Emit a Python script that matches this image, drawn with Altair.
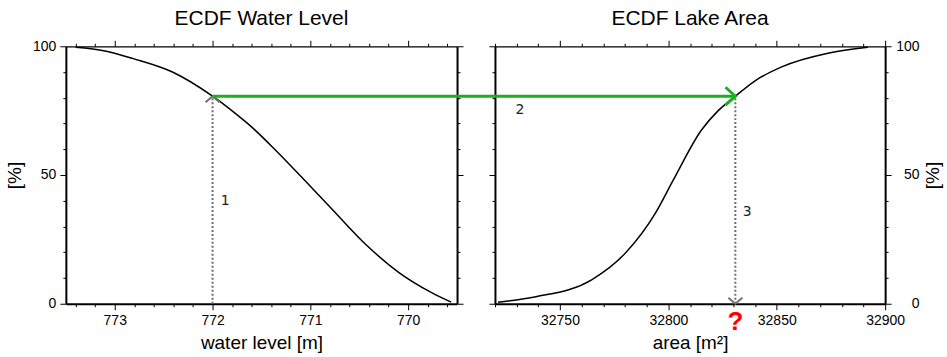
import altair as alt
import pandas as pd

# ---------------- data ----------------
wl_level = [773.40, 773.10, 772.81, 772.41, 772.00, 771.80, 771.59, 771.35, 771.09, 770.78, 770.43, 770.09, 769.76, 769.56]
wl_pct = [99.6, 98.2, 95.2, 90.0, 80.6, 74.9, 68.3, 59.4, 49.2, 36.8, 22.9, 12.0, 4.3, 0.6]

area_val = [32721.4, 32738.9, 32764.6, 32780.3, 32794.1, 32802.3, 32815.2, 32823.0, 32830.9, 32840.0, 32852.0, 32873.6, 32892.0]
area_pct = [0.6, 2.7, 9.3, 19.8, 35.3, 48.1, 67.4, 75.0, 80.6, 86.6, 91.9, 97.3, 99.6]

p_cross = 80.6
wl_cross = 772.0
area_cross = 32830.9

step_labels = ["1", "2", "3"]
step_x = [771.87, 32731.5, 32836.4]
step_y = [39.9, 75.2, 35.7]

q_label = "?"
q_y = -7.0

# tick positions
wl_major = [773, 772, 771, 770]
wl_ticks = [round(769.6 + 0.2 * i, 1) for i in range(20)]
area_major = [32750, 32800, 32850, 32900]
area_ticks = [32720 + 10 * i for i in range(19)]
pct_major = [0, 50, 100]
pct_ticks = [10 * i for i in range(11)]

# ---------------- layout ----------------
LEFT_W = 392
RIGHT_W = 391
H = 258
GAP = 38
WL_DOM = [769.5, 773.5]
AREA_DOM = [32720, 32900]

FONT = "Liberation Sans"
GREEN = "#1db01d"
GRAY = "#707070"

wl_scale = alt.Scale(domain=WL_DOM, reverse=True, nice=False, zero=False)
area_scale = alt.Scale(domain=AREA_DOM, nice=False, zero=False)
pct_scale = alt.Scale(domain=[0, 100], nice=False, zero=False)

wl_major_test = "abs(datum.value - round(datum.value)) < 0.001"
area_major_test = "datum.value % 50 === 0"
pct_major_test = "datum.value % 50 === 0"


def tsize(test):
    return {"condition": {"test": test, "value": 6}, "value": 3}


def lab(test):
    return f"{test} ? format(datum.value, 'd') : ''"


common_axis = dict(
    domainColor="black",
    tickColor="black",
    tickWidth=1,
    labelColor="black",
    labelFont=FONT,
    labelFontSize=14,
    titleFont=FONT,
    titleFontSize=19,
    titleFontWeight="normal",
    titleColor="black",
    grid=False,
    labelOverlap=False,
    labelFlush=False,
)

# ---------------- left panel ----------------
wl_df = pd.DataFrame({"level": wl_level, "pct": wl_pct})
cross_l = pd.DataFrame({"level": [wl_cross], "pct": [p_cross], "zero": [0]})
txt1 = pd.DataFrame({"level": [step_x[0]], "pct": [step_y[0]], "t": [step_labels[0]]})

l_curve = alt.Chart(wl_df).mark_line(color="black", strokeWidth=1.5, interpolate="monotone").encode(
    x=alt.X("level:Q", scale=wl_scale,
            axis=alt.Axis(orient="bottom", values=wl_ticks, labelExpr=lab(wl_major_test),
                          tickSize=tsize(wl_major_test), title="water level [m]", domainWidth=2,
                          labelPadding=4, titlePadding=6, **common_axis)),
    y=alt.Y("pct:Q", scale=pct_scale,
            axis=alt.Axis(orient="left", values=pct_ticks, labelExpr=lab(pct_major_test),
                          tickSize=tsize(pct_major_test), title="[%]", domainWidth=2,
                          labelPadding=4, titlePadding=8, **common_axis)),
)

l_dots = alt.Chart(cross_l).mark_rule(color=GRAY, strokeWidth=2, strokeDash=[2, 2]).encode(
    x=alt.X("level:Q", scale=wl_scale,
            axis=alt.Axis(orient="top", values=wl_ticks, labels=False, title=None,
                          tickSize=tsize(wl_major_test), domainWidth=1.3, **common_axis)),
    y=alt.Y("zero:Q", scale=pct_scale,
            axis=alt.Axis(orient="right", values=pct_ticks, labels=False, title=None,
                          tickSize=tsize(pct_major_test), domainWidth=2, **common_axis)),
    y2="pct:Q",
)

l_head = alt.Chart(cross_l).mark_point(
    shape="M-1,0.86L0,0L1,0.86", size=196, filled=False, color=GRAY, strokeWidth=2, opacity=1
).encode(
    x=alt.X("level:Q", scale=wl_scale, axis=None),
    y=alt.Y("pct:Q", scale=pct_scale, axis=None),
)

l_txt = alt.Chart(txt1).mark_text(font="DejaVu Sans", fontSize=14, color="#222222", align="center",
                                   baseline="middle").encode(
    x=alt.X("level:Q", scale=wl_scale, axis=None),
    y=alt.Y("pct:Q", scale=pct_scale, axis=None),
    text="t:N",
)

left = alt.layer(l_curve, l_dots, l_head, l_txt).resolve_axis(x="independent", y="independent").properties(
    width=LEFT_W, height=H, title="ECDF Water Level"
)

# ---------------- right panel ----------------
ar_df = pd.DataFrame({"area": area_val, "pct": area_pct})
cross_r = pd.DataFrame({"area": [area_cross], "pct": [p_cross], "zero": [0]})
txt23 = pd.DataFrame({"area": step_x[1:], "pct": step_y[1:], "t": step_labels[1:]})
q_df = pd.DataFrame({"area": [area_cross], "pct": [q_y], "t": [q_label]})

# pixel position of the left crossing, relative to the right panel origin
left_px = (WL_DOM[1] - wl_cross) / (WL_DOM[1] - WL_DOM[0]) * LEFT_W
green_start = left_px - LEFT_W - GAP

r_curve = alt.Chart(ar_df).mark_line(color="black", strokeWidth=1.5, interpolate="monotone").encode(
    x=alt.X("area:Q", scale=area_scale,
            axis=alt.Axis(orient="bottom", values=area_ticks, labelExpr=lab(area_major_test),
                          tickSize=tsize(area_major_test), title="area [m²]", domainWidth=2,
                          labelPadding=4, titlePadding=6, **common_axis)),
    y=alt.Y("pct:Q", scale=pct_scale,
            axis=alt.Axis(orient="right", values=pct_ticks, labelExpr=lab(pct_major_test),
                          tickSize=tsize(pct_major_test), title="[%]", titleAngle=270,
                          titleX=47, titleY=H / 2, titleAlign="center", titleBaseline="middle",
                          domainWidth=2, labelAlign="right", labelPadding=28, **common_axis)),
)

r_dots = alt.Chart(cross_r).mark_rule(color=GRAY, strokeWidth=2, strokeDash=[2, 2]).encode(
    x=alt.X("area:Q", scale=area_scale,
            axis=alt.Axis(orient="top", values=area_ticks, labels=False, title=None,
                          tickSize=tsize(area_major_test), domainWidth=1.3, **common_axis)),
    y=alt.Y("zero:Q", scale=pct_scale,
            axis=alt.Axis(orient="left", values=pct_ticks, labels=False, title=None,
                          tickSize=tsize(pct_major_test), domainWidth=2, **common_axis)),
    y2="pct:Q",
)

r_head = alt.Chart(cross_r).mark_point(
    shape="M-1,-0.86L0,0L1,-0.86", size=196, filled=False, color=GRAY, strokeWidth=2, opacity=1
).encode(
    x=alt.X("area:Q", scale=area_scale, axis=None),
    y=alt.Y("zero:Q", scale=pct_scale, axis=None),
)

r_green = alt.Chart(cross_r).mark_rule(color=GREEN, strokeWidth=3).encode(
    x=alt.X("area:Q", scale=area_scale, axis=None),
    x2=alt.value(green_start),
    y=alt.Y("pct:Q", scale=pct_scale, axis=None),
)

r_arrow = alt.Chart(cross_r).mark_point(
    shape="M-1.1,-1L0,0L-1.1,1", size=324, filled=False, color=GREEN, strokeWidth=3, opacity=1
).encode(
    x=alt.X("area:Q", scale=area_scale, axis=None),
    y=alt.Y("pct:Q", scale=pct_scale, axis=None),
)

r_txt = alt.Chart(txt23).mark_text(font="DejaVu Sans", fontSize=14, color="#222222", align="center",
                                    baseline="middle").encode(
    x=alt.X("area:Q", scale=area_scale, axis=None),
    y=alt.Y("pct:Q", scale=pct_scale, axis=None),
    text="t:N",
)

r_q = alt.Chart(q_df).mark_text(font=FONT, fontSize=26, fontWeight="bold", color="red", align="center",
                                 baseline="middle").encode(
    x=alt.X("area:Q", scale=area_scale, axis=None),
    y=alt.Y("pct:Q", scale=pct_scale, axis=None),
    text="t:N",
)

right = alt.layer(r_curve, r_dots, r_head, r_green, r_arrow, r_txt, r_q).resolve_axis(
    x="independent", y="independent"
).properties(width=RIGHT_W, height=H, title="ECDF Lake Area")

chart = alt.hconcat(left, right, spacing=GAP, bounds="flush").properties(
    padding={"left": 5, "top": 8, "right": 5, "bottom": 5}
).configure_view(stroke=None).configure_title(
    font=FONT, fontSize=21, fontWeight="normal", color="black", anchor="middle", offset=10
)

chart.save("out.html", embed_options={"renderer": "svg", "actions": False})
